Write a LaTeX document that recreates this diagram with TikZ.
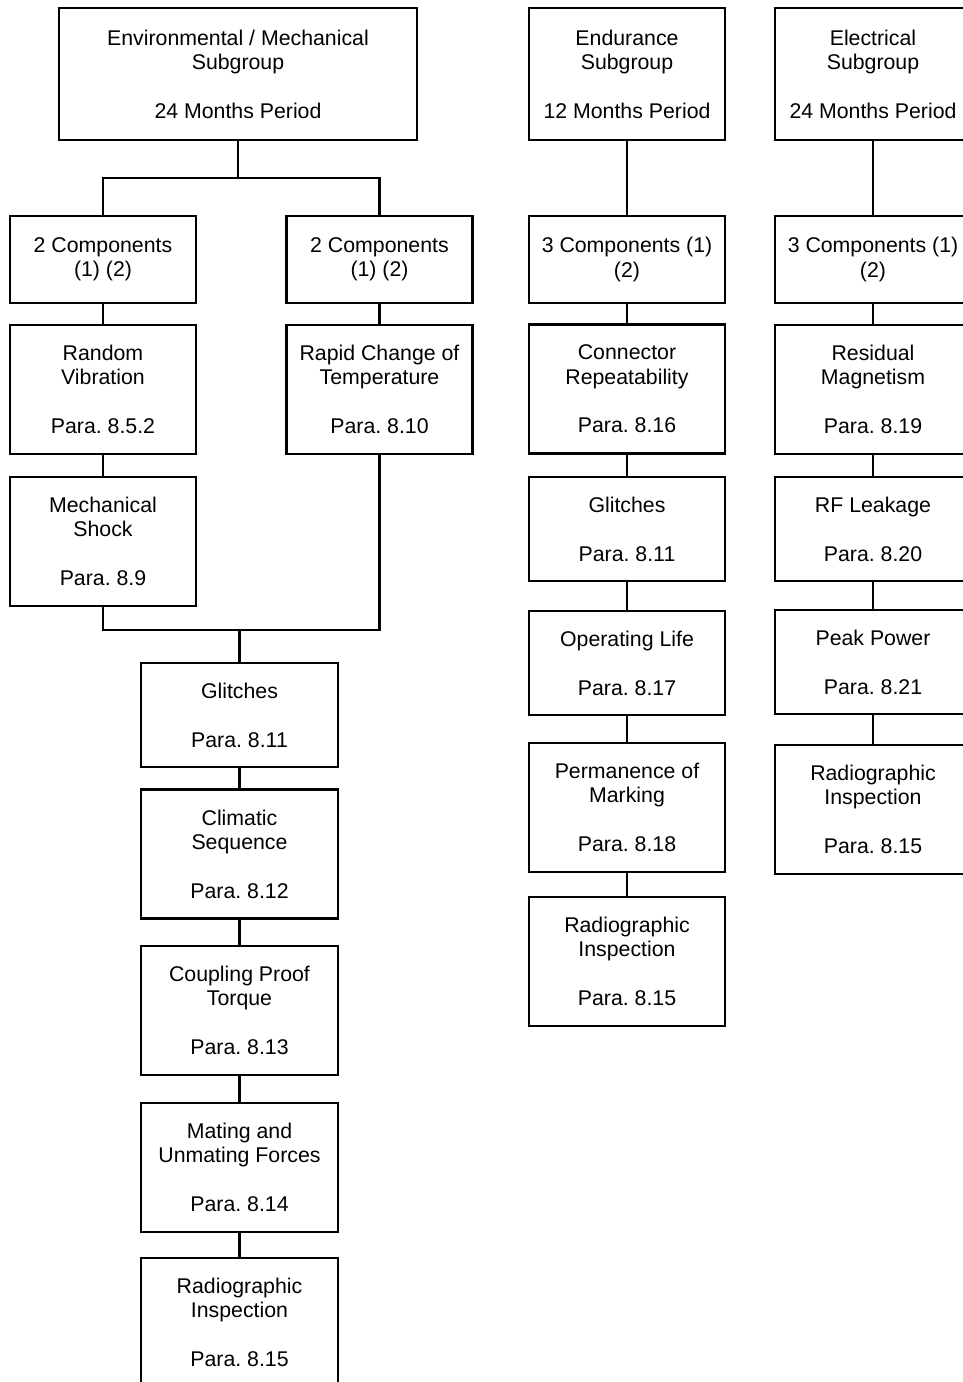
\documentclass[tikz,border=0pt]{standalone}
\usepackage{fontspec}
\setmainfont{Liberation Sans}
\frenchspacing
\begin{document}
\begin{tikzpicture}[x=0.5pt,y=-0.5pt]
		\tikzset{box/.style = {draw, line width=1.3pt, align=center, inner sep=0pt,
				font=\fontsize{10.65pt}{12.2pt}\selectfont, minimum width=98pt}}
		\tikzset{head/.style = {box, minimum height=66pt}}
		\tikzset{comp/.style = {box, minimum height=43.5pt}}
		\tikzset{tall/.style = {box, minimum height=64.5pt}}
		\tikzset{short/.style = {box, minimum height=52pt}}
		\tikzset{narrow/.style = {minimum width=93pt}}
		\tikzset{line/.style = {line width=1.3pt}}
		
		\useasboundingbox (0,0) rectangle (963,1382);
		\clip (0,0) rectangle (963,1382);
		
		% environmental / mechanical
		\node[head, minimum width=179pt] (env) at ( 238,   74) {Environmental / Mechanical\\Subgroup\\[12.2pt]24 Months Period};
		\node[comp, narrow]  (compa) at ( 103,  259.5) {2 Components\\(1) (2)};
		\node[comp, narrow]  (compb) at (379.5, 259.5) {2 Components\\(1) (2)};
		\node[tall, narrow]     (rv) at ( 103,  389.5) {Random\\Vibration\\[12.2pt]Para. 8.5.2};
		\node[tall, narrow]     (rc) at (379.5, 389.5) {Rapid Change of\\Temperature\\[12.2pt]Para. 8.10};
		\node[tall, narrow]     (ms) at ( 103,  541.5) {Mechanical\\Shock\\[12.2pt]Para. 8.9};
		\node[short, minimum width=98.5pt] (gla) at (239.5,  715) {Glitches\\[12.2pt]Para. 8.11};
		\node[tall, minimum width=98.5pt]  (cs) at (239.5,  854) {Climatic\\Sequence\\[12.2pt]Para. 8.12};
		\node[tall, minimum width=98.5pt] (cpt) at (239.5, 1010.5) {Coupling Proof\\Torque\\[12.2pt]Para. 8.13};
		\node[tall, minimum width=98.5pt]  (mu) at (239.5, 1167.5) {Mating and\\Unmating Forces\\[12.2pt]Para. 8.14};
		\node[tall, minimum width=98.5pt] (ria) at (239.5, 1322.5) {Radiographic\\Inspection\\[12.2pt]Para. 8.15};
		
		\coordinate (split) at (238, 178);
		\coordinate (join)  at (239.5, 630);
		
		% endurance
		\node[head]  (end) at ( 627,   74) {Endurance\\Subgroup\\[12.2pt]12 Months Period};
		\node[comp] (compe) at ( 627,  259.5) {3 Components (1)\\(2)};
		\node[tall]   (cr) at ( 627,  389) {Connector\\Repeatability\\[12.2pt]Para. 8.16};
		\node[short] (glb) at ( 627,  529) {Glitches\\[12.2pt]Para. 8.11};
		\node[short]  (ol) at ( 627,  663) {Operating Life\\[12.2pt]Para. 8.17};
		\node[tall]   (pm) at ( 627,  807.5) {Permanence of\\Marking\\[12.2pt]Para. 8.18};
		\node[tall]  (rib) at ( 627,  961.5) {Radiographic\\Inspection\\[12.2pt]Para. 8.15};
		
		% electrical
		\node[head]  (ele) at ( 873,   74) {Electrical\\Subgroup\\[12.2pt]24 Months Period};
		\node[comp] (compl) at ( 873,  259.5) {3 Components (1)\\(2)};
		\node[tall]   (rm) at ( 873,  389.5) {Residual\\Magnetism\\[12.2pt]Para. 8.19};
		\node[short]  (rf) at ( 873,  529) {RF Leakage\\[12.2pt]Para. 8.20};
		\node[short]  (pp) at ( 873,  662) {Peak Power\\[12.2pt]Para. 8.21};
		\node[tall]  (ric) at ( 873,  809.5) {Radiographic\\Inspection\\[12.2pt]Para. 8.15};
		
		\draw[line] (env) to (split);
		\draw[line] (compa) |- (split) -| (compb);
		\draw[line] (compa) to (rv);
		\draw[line] (rv) to (ms);
		\draw[line] (compb) to (rc);
		\draw[line] (ms) |- (join) -| (rc);
		\draw[line] (join) to (gla);
		\draw[line] (gla) to (cs);
		\draw[line] (cs) to (cpt);
		\draw[line] (cpt) to (mu);
		\draw[line] (mu) to (ria);
		
		\draw[line] (end) to (compe);
		\draw[line] (compe) to (cr);
		\draw[line] (cr) to (glb);
		\draw[line] (glb) to (ol);
		\draw[line] (ol) to (pm);
		\draw[line] (pm) to (rib);
		
		\draw[line] (ele) to (compl);
		\draw[line] (compl) to (rm);
		\draw[line] (rm) to (rf);
		\draw[line] (rf) to (pp);
		\draw[line] (pp) to (ric);
		\end{tikzpicture}
\end{document}
